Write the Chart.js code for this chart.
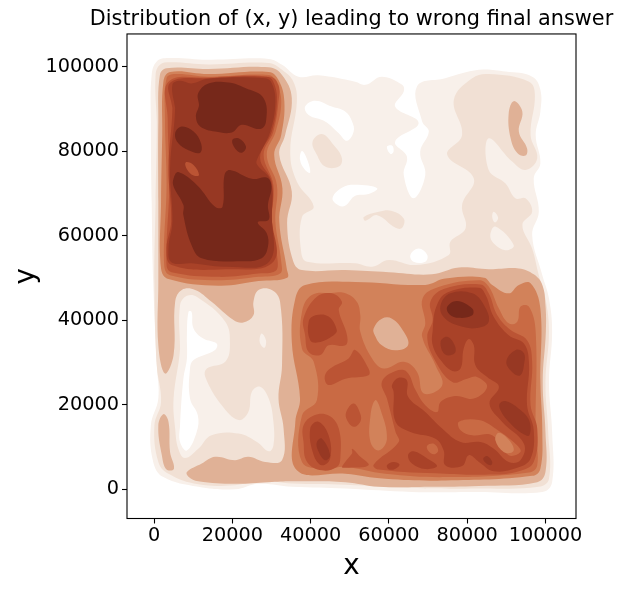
<!DOCTYPE html>
<html>
<head>
<meta charset="utf-8">
<script src="https://cdn.jsdelivr.net/npm/chart.js@4/dist/chart.umd.min.js"></script>
<style>
body { margin: 0; background: #fff; }
canvas { display: block; }
</style>
</head>
<body>
<canvas id="canvas" width="623" height="590"></canvas>
<script>
// contour outlines, [x, y] in thousands
var outer1 = [[-0.6,98.1],[0.7,101.3],[3.7,102.1],[13.9,101.7],[29.3,101.9],[32.7,100.5],[36.9,97.7],[42,98],[51.4,96.5],[54,95.75],[58.2,97.7],[63.4,95.75],[63.8,94.2],[61.6,90.6],[67.6,86.7],[61.6,82.3],[64.6,78.8],[63.8,74.4],[66.3,68.9],[69.3,74.4],[68,79.9],[70.2,84.7],[68.5,87.1],[67.2,95.4],[74.4,97.3],[83,99.3],[89.8,98.9],[96.6,97.7],[98.7,94.6],[98.7,89.4],[97.5,83.9],[98.7,77.2],[97,73.6],[98.3,65.7],[96.6,60.2],[99.2,50.7],[100.9,45.2],[101.7,37.3],[100.9,25.4],[101.7,13.6],[101.7,1.7],[99.2,-0.6],[83,-0.6],[65.9,-0.6],[48.9,0.2],[35.2,0.6],[26.7,1.3],[20.7,0],[11.3,0.6],[2.4,2.9],[-0.2,6.5],[-0.8,15.2],[1.1,21.5],[0.7,29.4],[-0.2,49.1],[-0.6,68.1],[-0.8,87.1]];
var band2 = [[0.4,98.1],[1.5,100.5],[4.1,101.1],[13.9,100.6],[29.3,100.9],[32.7,99.3],[35.6,96.5],[36.5,91.8],[34.8,79.9],[36.5,72.8],[40.8,66.9],[37.8,64.5],[37.6,56.2],[39.1,53.9],[51.4,53.5],[55.7,52.7],[60,54.3],[66.8,53.1],[75.3,55.5],[75.7,58.6],[79.6,61.8],[78.7,67.3],[81.7,73.6],[74.9,79.2],[78.7,83.9],[76.6,92.2],[81.3,97.3],[85.5,98.3],[95.8,96.5],[97.3,93.4],[96.2,83.9],[97.9,78.4],[94.9,75.6],[91.5,77.6],[85.5,83.1],[85.5,75.6],[89.8,72.4],[92.3,68.9],[94.9,68.9],[96.6,65.7],[94.1,62.6],[96.6,57],[98.3,50.7],[100,45.2],[100.9,37.3],[100,25.4],[100.7,13.6],[100.9,2.5],[98.3,0.6],[83,0.2],[65.9,0.3],[48.9,1.1],[35.2,1.4],[26.7,2.1],[20.7,1],[11.3,1.2],[3.7,3.7],[1.1,6.5],[0.1,15.2],[1.8,20.7],[0.7,29.4],[0.1,49.1],[0.4,68.1],[0.7,87.1]];
var gapA = [[86.8,65.7],[87.9,64.3],[87.1,63.2],[86.4,64.5]];
var gapB = [[87.2,62.2],[91.9,57.8],[89.8,56.6],[86.8,58.2],[85.9,60.2]];
var isleA = [[42.9,84.1],[45.9,81.5],[48,78.4],[47.2,76.4],[43.7,76.4],[41.6,79.2],[40.5,82.3]];
var isleB = [[53.6,64.5],[57.4,65.7],[60.8,65.9],[63.8,64.1],[63.4,61.9],[61.7,61.9],[57,64.9],[54,63.6]];
var whiteA = [[38.6,90.6],[41.2,92],[45.4,90.6],[48.9,89.4],[50.6,87.1],[51,84.7],[49.3,82.5],[47.2,84.3],[43.7,87.1],[39.5,88.6]];
var whiteB = [[37.8,80.1],[39,78.4],[39.9,75],[38.6,75.6],[37.3,78]];
var whiteC = [[45.6,68.9],[48,71.4],[51.4,72.1],[57,71.3],[54.8,69.9],[51.4,69.5],[48.9,67.2],[47.2,67.2]];
var whiteD = [[59.5,81.1],[60.8,81.4],[61.2,80],[60.4,79.4]];
var whiteE = [[65.5,55.5],[67.6,57],[69.8,55.5],[69.3,53.9],[66.3,53.9]];
var tan3 = [[1.5,98.1],[3.2,99.7],[13.9,99.5],[29.3,99.9],[32.7,98.1],[35.2,92.6],[33.5,83.9],[32,79.2],[35.2,70.5],[34,63],[35.6,53.9],[37.8,51.9],[48.9,51.9],[60,51.4],[71,50.9],[77.9,52.5],[85.5,52.1],[93.2,52.3],[97,50.9],[99.2,48.4],[100,43.6],[100.1,37.3],[99.3,25.4],[100,13.6],[100,4.1],[97.9,1.7],[83,0.8],[70.2,0.6],[57.4,0.6],[48.9,1.7],[35.2,1.9],[29.3,1.7],[20.7,1.3],[11.3,1.9],[8.8,3],[8.4,4.1],[12.2,6.1],[15.6,7.7],[20.7,6.9],[24.1,7.7],[28.4,6.5],[32.7,6.9],[33.1,14.4],[31.8,21.5],[32.7,29.4],[32.2,44.4],[30.1,47.2],[26.7,47.2],[25.4,44.4],[25.4,41.2],[22.8,39.5],[20.3,40.1],[14.7,44.4],[10.5,47.2],[7.1,47.2],[5.4,44.4],[5,31.8],[2.8,27.4],[1.1,34.1],[1.1,49.1],[1.1,68.1],[1.1,87.1]];
var tanLeft = [[2.4,17.8],[3.7,16],[4.1,8.85],[5.1,4.9],[3.2,4.7],[2,8.1],[1.1,15.2]];
var tanRight = [[91.9,91.9],[94.1,89.4],[93.2,84.7],[95.3,80.7],[94.9,79],[92.8,79.6],[91.1,83.1],[90.6,89]];
var pale = [[6.65,43.6],[8.4,45.8],[10.9,45.6],[18.2,39.7],[19.4,34.5],[18.2,30.2],[13.5,28.6],[13.1,26.6],[17.3,19.9],[21.6,16.4],[24.1,18.3],[25,23.1],[27.1,24.3],[29.3,21.5],[30.5,16],[30.5,10.4],[29.3,9],[26.3,11.2],[21.6,13.2],[14.7,12.8],[11.3,9.6],[7.9,7.4],[6.2,9.6],[5.4,14.4],[5,21.5],[6.65,33.3]];
var paleWhite = [[8.8,42],[9.6,42],[10.1,38.1],[12.6,35.7],[16,34.5],[15.6,33],[10.1,30.6],[9.2,28.6],[9.2,21.5],[11.2,17.5],[10.9,13.6],[8.4,9.2],[6.65,11.2],[6.65,15.2],[7.5,26.2],[8.4,31],[8.4,36.5]];
var paleSpot = [[27.5,36.9],[28.6,35.3],[28.2,33.5],[27,34.9]];

var block4 = [[2.4,96.5],[4.1,98.8],[13.9,98.3],[29.3,98.8],[31.8,96.9],[33.3,91.8],[32.5,83.9],[30.7,79.2],[32.8,71.3],[32,63.4],[33.9,52.3],[34,50.1],[26.7,49.3],[16.5,48.2],[3.7,49.8],[1.8,52.3],[1.8,68.1],[2.1,83.9]];
var block5 = [[3.2,97.3],[5.4,98.3],[13.9,97.7],[29.3,98.1],[31.1,96.5],[32.5,91.8],[31.1,84.7],[28.8,79.2],[31.4,72],[31,63.4],[32.5,53.9],[32.2,51.1],[26.7,50.3],[16.5,49.5],[4.1,50.7],[2.6,53.1],[3.2,72],[2.8,87.8]];
var block6 = [[3.7,96.5],[13.9,97.5],[29.7,97.7],[31.8,95.7],[31.8,91.8],[30.5,84.7],[28,79.2],[30.5,72],[30.1,63.4],[31.6,53.9],[31,51.7],[26.7,51.1],[16.5,50.3],[4.5,51.4],[3.2,53.1],[3.9,72],[3.5,87.8]];
var block7 = [[4.2,96.3],[13.9,97.3],[29.1,97.6],[30.7,96],[31.4,91.8],[30.1,84.7],[27.1,78.5],[30.1,72.7],[30.1,64.1],[30.5,53.9],[18.2,52.1],[4.5,53.1],[3.2,57],[4.4,63.4],[3.7,76],[4.7,90.2]];
var block8 = [[4.7,95.8],[6.65,96.7],[9.6,96.1],[13.9,97.2],[28.4,97.3],[30.1,96.1],[31,91.8],[29.7,84.7],[26.3,78],[26.3,76.9],[29.7,73.2],[30.1,64.9],[29.4,53.9],[18.2,52.7],[9.6,53.5],[4.5,53.7],[3.7,57],[4.7,63.4],[4.1,76],[5.4,90.2]];
var blockFleck = [[8.1,77.4],[10.1,76.8],[11.5,74.4],[10.1,74.3],[8.4,75.8]];
var darkTop = [[11.3,93.8],[13.9,96.1],[19,96.3],[23.3,95],[28,92.6],[28.6,87],[27.1,85.3],[22.4,86.3],[19.9,84.5],[15.6,84.7],[11.8,85.9],[10.7,88.2],[11.5,91]];
var darkLeft = [[5.4,84.3],[7.1,85.9],[10.1,84.7],[12,81.9],[11.8,79.7],[8.8,80.3],[6.2,81.9]];
var darkSmall = [[20,82.7],[21.6,83.1],[23.5,81.1],[22.4,79.7],[20.7,80.7]];
var darkLow = [[5,73.6],[6.2,75.1],[11,72],[15.6,66.9],[17.5,66.9],[18,74.4],[19.4,75.6],[25,73.5],[28.8,73.8],[30,71.7],[29.1,67.3],[29.3,63.8],[26.5,63.2],[28.8,60.6],[29.1,57.4],[27.5,54.7],[22.4,54],[12.2,54.7],[9.6,57.8],[7.5,64.9],[7.5,67.3],[5,71.7]];

var low4 = [[36.1,45.2],[38.6,48.4],[51.4,49.1],[69.3,48.4],[74.4,49.9],[84.3,50.1],[86.4,48.4],[90.6,46.4],[93.2,48.4],[96.2,48.8],[98.7,42.8],[98.7,25.4],[99.2,13.6],[98.7,4.9],[96.6,3.2],[74.4,2.1],[59.1,2.5],[48.9,3.7],[36.5,4.5],[36.1,16],[37.3,21.5],[35.2,34.9]];
var lowHole = [[56.1,38.1],[58.2,40.4],[60.8,40.4],[63.8,37.3],[64.9,34.1],[61.7,32.9],[58.2,34.1],[56.4,36.5]];
var low5 = [[37.8,42],[40.3,46],[45.4,46.5],[48.9,46.4],[51.8,44.4],[52.7,41.2],[52.7,37.3],[55.7,31],[58.7,28.6],[63.8,30.2],[67.2,27.8],[68.9,22.7],[73.6,24.6],[71.9,29.4],[68.5,36.1],[69.3,39.3],[68.6,45.2],[72.7,47.9],[83,49.5],[85.5,48],[88.1,42.8],[90.6,39.3],[92.8,39.7],[93.6,43.2],[95.8,43.2],[97.5,37.3],[97.5,13.6],[97.9,5.7],[95.8,4],[74.4,2.9],[59.1,3.7],[48.9,5.3],[43.7,4.9],[37.8,6.5],[37.8,17.5],[41.6,21.1],[40.8,30.2],[37.8,33.3]];
var lowIsle = [[56.5,21.1],[57.8,19.1],[59.5,12],[57.4,9.2],[55.3,11.2],[55.3,17.5]];
var low6 = [[58.2,25.4],[61.7,28],[64.6,27.8],[66.8,23.5],[69.3,19.9],[72.3,18.3],[73.2,20.7],[77,22.1],[81.7,21.5],[85.1,24.3],[82.5,26.6],[80,26.2],[76.2,25.4],[71.5,31],[69.8,36.1],[71.2,40.1],[70.6,44.4],[74,47.4],[83.4,48.5],[85.5,46.4],[87.7,41.2],[91.1,37.7],[95.3,35.3],[96.6,30.2],[96.2,19.9],[97.9,14.4],[97,6.5],[93.2,4.3],[86.4,3.5],[74.4,3.7],[57.4,4.7],[56.1,5.85],[62.5,11.2],[61.7,13.6],[59.5,21.5]];
var low7 = [[71.2,37.7],[72.1,43.2],[74.9,46.6],[83,47.7],[84.8,45.8],[86.8,40.8],[90.6,36.5],[94.5,34.5],[95.8,29.8],[95.3,19.9],[97,14],[96.2,7.3],[92.8,5.1],[86.8,4.3],[83,6.5],[80.4,8.1],[78.7,5.5],[74.4,5.7],[74,9.2],[71.9,12],[65.5,13.6],[61.7,16],[61.2,23.1],[60.8,24.7],[62.5,26.4],[64.6,25.8],[64.9,21.9],[69.3,18.3],[73.6,14.4],[78.3,11.2],[83.4,11.2],[86.8,9.6],[90.6,6.5],[93.6,6.9],[94.5,10.8],[88.9,16],[85.7,20.3],[88.1,24.3],[85.1,26.6],[82.1,29.4],[81.7,34.1],[80.4,35.6],[79.1,33.3],[78.3,28.6],[76.2,28],[73.2,30.6],[71.2,34.1]];
var midIsle = [[77.9,16],[83,16.4],[87.2,14.4],[92.8,10.4],[93.6,8.85],[90.6,8.1],[86.4,12.8],[81.3,12.8],[78.3,14]];
var midIsleCore = [[88.1,13.4],[91.1,11.2],[91.8,9],[89.4,8.8],[87.2,11.6]];
var midFleck = [[69.8,10.4],[71.5,10.8],[72.6,9.2],[71.5,8.3],[70,9.2]];
var peak8 = [[73.2,43.6],[75.7,46.4],[81.3,46.4],[84.3,43.6],[85.5,39.7],[82.5,38.2],[77.9,38.7],[74,40.8]];
var peak9 = [[74.9,43.2],[77.4,44.6],[81.3,42.8],[81.3,41.2],[77.9,40.6],[75.5,41.4]];
var ovalB = [[73.2,34.9],[74.9,36.1],[76.8,34.1],[76.8,32.2],[74.4,31.9]];
var ovalC = [[90,30.2],[92.4,33],[94.5,32.2],[94.5,29.4],[93.6,27],[91.9,27.4]];
var ovalD = [[88.3,20.3],[89.8,20.9],[93.2,19.1],[95.8,16.4],[95.9,12.8],[94.1,13.2],[90.6,16],[88.5,18.7]];
var ovalE = [[84.1,7.3],[85.1,7.9],[86.4,6.5],[86,5.7],[84.7,6.3]];
var ovalF = [[64.9,8.1],[66.3,9],[69.8,7.3],[72.3,5.5],[69.3,4.8],[65.9,6.1]];
var ovalG = [[59.5,5.7],[61.2,6.5],[62.7,5.9],[61.7,4.9],[60,4.7]];
var west6 = [[38.2,40.5],[41.6,45.6],[45.4,46.4],[48,44.4],[47.2,42.4],[49.3,36.5],[48.9,34.1],[44.6,34.1],[42.5,31.8],[39.5,32.5],[38.6,36.5]];
var west7 = [[39.5,39.7],[41.2,41.2],[44.6,40.9],[46.7,37.7],[45.9,36.5],[42,34.8],[39.9,35.3]];
var mid6 = [[43.6,26.6],[45,28.6],[49.7,31],[51.4,33],[54.8,28.6],[54.8,27],[48.9,26.2],[44.6,24.7]];
var south6 = [[38.2,15.2],[40.8,17.5],[44.6,17.5],[47.2,14.4],[47.6,7.3],[46.7,5.3],[42.9,4.5],[39.1,6.5],[38.2,11.2]];
var south7 = [[39.9,14.4],[42,16],[44.6,12.8],[45,7.3],[42.9,5.7],[40.8,8.1]];
var south8 = [[41.6,11.2],[42.9,12],[45,8.1],[43.7,6.9],[41.9,9.2]];
var oval6 = [[51,20.3],[52.7,17.9],[52.7,16],[51,14.8],[49.3,16.4],[49.1,18.3]];
var wedge6 = [[48,5.3],[50.6,8.5],[50.6,9.6],[52.3,8.1],[54.8,5.7],[48.9,5.1]];

// paint order, low density first, holes are painted over in their own level
var contourPaths = [outer1, band2, gapA, gapB, isleA, isleB, whiteA, whiteB, whiteC, whiteD, whiteE, tan3, tanLeft, tanRight, pale, paleWhite, paleSpot,
    block4, block5, block6, block7, block8, blockFleck, darkTop, darkLeft, darkSmall, darkLow,
    low4, lowHole, low5, lowIsle, low6, midIsle, midIsleCore, midFleck, low7, peak8, peak9, ovalB, ovalC, ovalD, ovalE, ovalF, ovalG,
    west6, west7, mid6, south6, south7, south8, oval6, wedge6];
var contourLevels = [1, 2, 1, 1, 2, 2, 0, 0, 0, 0, 0, 3, 3, 3, 1, 0, 1,
    4, 5, 6, 7, 8, 6, 9, 9, 9, 9,
    4, 3, 5, 4, 6, 5, 4, 5, 7, 8, 9, 8, 8, 8, 8, 7, 7,
    6, 7, 6, 6, 7, 8, 6, 6];
var levelColors = ["#ffffff", "#f8f0ea", "#f1e0d4", "#e0b196", "#d2825a", "#c96a44", "#bb5434", "#a94228", "#973823", "#76281a"];

var xTickValues = [0, 20000, 40000, 60000, 80000, 100000];
var yTickValues = [0, 20000, 40000, 60000, 80000, 100000];

var datasets = contourPaths.map(function (path, i) {
    // wrap round by one point each way so the curve has no kink where it closes
    var wrapped = [path[path.length - 1]].concat(path, [path[0], path[1]]);
    var pts = wrapped.map(function (p) {
        return { x: p[0] * 1000, y: p[1] * 1000 };
    });
    return {
        data: pts,
        showLine: true,
        fill: "shape",
        tension: 0.4,
        pointRadius: 0,
        borderWidth: 0,
        backgroundColor: levelColors[contourLevels[i]],
        order: contourPaths.length - i
    };
});

var frame = {
    id: "frame",
    afterLayout: function (chart) {
        // title is centred over the axes but wider than them
        chart.titleBlock.left = 80;
        chart.titleBlock.right = 623;
    },
    afterDatasetsDraw: function (chart) {
        var a = chart.chartArea, ctx = chart.ctx;
        ctx.save();
        ctx.strokeStyle = "#000";
        ctx.lineWidth = 1.1;
        ctx.strokeRect(a.left, a.top, a.right - a.left, a.bottom - a.top);
        ctx.restore();
    }
};

function axisOpts(tickValues, label, tickPadding, titlePadding) {
    return {
        type: "linear",
        min: -6900,
        max: 107800,
        afterBuildTicks: function (scale) {
            scale.ticks = tickValues.map(function (v) { return { value: v }; });
        },
        ticks: {
            color: "#000",
            padding: tickPadding,
            maxRotation: 0,
            autoSkip: false,
            font: { family: "DejaVu Sans", size: 19.3 },
            callback: function (v) { return String(v); }
        },
        grid: { drawOnChartArea: false, drawTicks: true, tickLength: 5, tickColor: "#000", tickWidth: 1.1 },
        border: { display: false },
        title: {
            display: true,
            text: label,
            color: "#000",
            font: { family: "DejaVu Sans", size: 27.8 },
            padding: titlePadding
        }
    };
}

var xAxis = axisOpts(xTickValues, "x", 1, { top: 0, bottom: 7 });
xAxis.afterFit = function (scale) { scale.height = 71.5; };
var yAxis = axisOpts(yTickValues, "y", 3, { top: 10, bottom: 0 });
yAxis.afterFit = function (scale) { scale.width = 127; };

new Chart(document.getElementById("canvas").getContext("2d"), {
    type: "scatter",
    data: { datasets: datasets },
    options: {
        responsive: false,
        animation: false,
        events: [],
        layout: { padding: { top: 0, right: 47, bottom: 0, left: 0 } },
        plugins: {
            legend: { display: false },
            tooltip: { enabled: false },
            title: {
                display: true,
                fullSize: false,
                text: "Distribution of (x, y) leading to wrong final answer",
                color: "#000",
                font: { family: "DejaVu Sans", size: 20.8, weight: "normal" },
                padding: { top: 7, bottom: 2 }
            }
        },
        scales: { x: xAxis, y: yAxis }
    },
    plugins: [frame]
});
</script>
</body>
</html>
